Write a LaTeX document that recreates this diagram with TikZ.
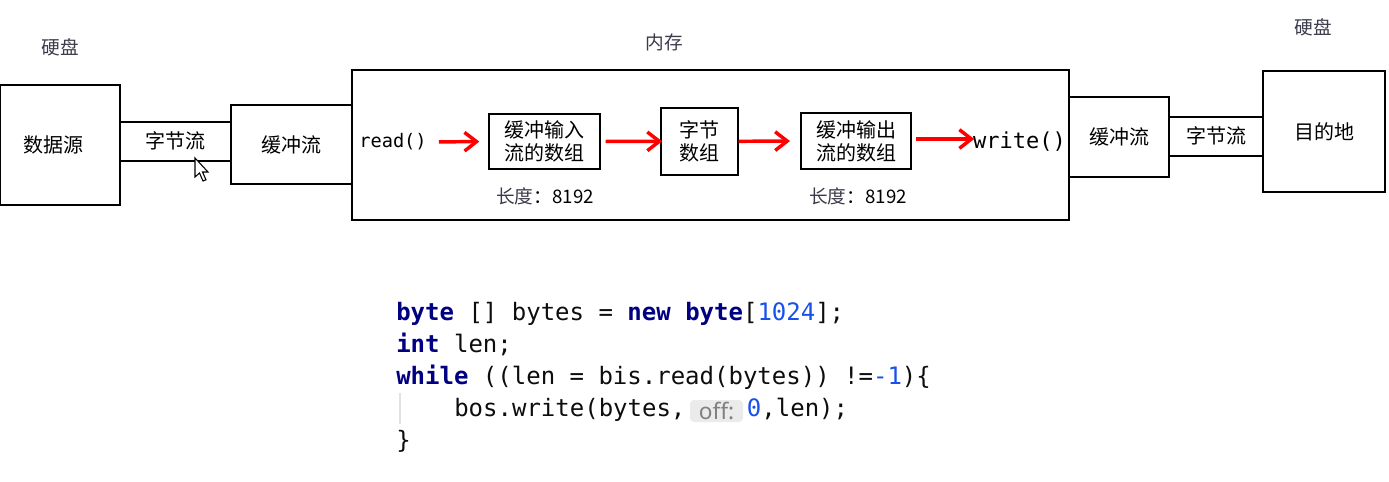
\documentclass[tikz,border=0pt]{standalone}
\usepackage{fontspec}
\usetikzlibrary{arrows.meta}
\newfontfamily\cjk{Noto Sans CJK SC}
\newfontfamily\cmono{DejaVu Sans Mono}
\newfontfamily\hintfont{Noto Sans}
\definecolor{kw}{HTML}{000080}
\definecolor{num}{HTML}{1750EB}
\definecolor{lbl}{HTML}{3A3A4A}
\definecolor{hintbg}{HTML}{EBEBEB}
\definecolor{hintfg}{HTML}{808080}
\definecolor{guide}{HTML}{E2E2E2}
\definecolor{arrred}{HTML}{FF0000}
\newcommand{\kwd}[1]{\textbf{\color{kw}#1}}
\newcommand{\nm}[1]{{\color{num}#1}}
\begin{document}
\begin{tikzpicture}[x=0.75pt,y=-0.75pt,
  box/.style={draw, line width=1.5pt, inner sep=0pt, align=center,
    font=\cjk\fontsize{15}{17.25}\selectfont},
  toplabel/.style={inner sep=0pt, text=lbl, font=\cjk\fontsize{14}{14}\selectfont},
  lenlabel/.style={inner sep=0pt, font=\cjk\fontsize{14}{14}\selectfont},
  redarr/.style={draw=arrred, line width=2.6pt, -{Straight Barb[length=9pt,width=14pt]}},
  code/.style={inner sep=0pt, anchor=base west, text=black!95, font=\cmono\fontsize{18}{18}\selectfont},
  hint/.style={inner sep=0pt, fill=hintbg, rounded corners=3pt, text=hintfg,
    minimum width=39.75pt, minimum height=16.5pt, font=\hintfont\fontsize{17}{17}\selectfont}
]
\useasboundingbox (0,0) rectangle (1389,482);

% top labels
\node[toplabel] (hdl) at (60,47) {硬盘};
\node[toplabel] (nc) at (664,42) {内存};
\node[toplabel] (hdr) at (1313,27) {硬盘};

% left side
\node[box, minimum width=90pt, minimum height=90pt] (src) at (60,145) {数据源\hspace*{10pt}};
\node[box, minimum width=83.25pt, minimum height=29.25pt] (bytel) at (175.5,141) {字节流};
\node[box, minimum width=90.75pt, minimum height=59.25pt] (bufl) at (291.5,144.5) {缓冲流};

% memory
\node[box, minimum width=537.75pt, minimum height=112.5pt] (mem) at (710.5,145) {};
\node[inner sep=0pt, font=\cmono\fontsize{14}{14}\selectfont] (rd) at (393,142) {read()};
\node[box, minimum width=83.25pt, minimum height=41.25pt] (inarr) at (544.5,141.5) {缓冲输入\\流的数组};
\node[box, minimum width=57.75pt, minimum height=50.25pt] (barr) at (699,141.3) {字节\\数组};
\node[box, minimum width=82.5pt, minimum height=42pt] (outarr) at (856,141) {缓冲输出\\流的数组};
\node[inner sep=0pt, font=\cmono\fontsize{16.5}{16.5}\selectfont] (wr) at (1019.5,142) {write()};
\node[lenlabel] (len1) at (545,196) {{\color{lbl}长度}：8192};
\node[lenlabel] (len2) at (858,196) {{\color{lbl}长度}：8192};

\draw[redarr, shorten <=9pt, shorten >=6.5pt] (rd.east) -- (inarr.west);
\draw[redarr, shorten <=3.5pt, shorten >=-2pt] (inarr.east) -- (barr.west);
\draw[redarr, shorten <=0pt, shorten >=7.5pt] (barr.east) -- (outarr.west);
\draw[redarr, shorten <=3pt, shorten >=-1pt] (outarr.east |- 0,139) -- (wr.west |- 0,139);

% right side
\node[box, minimum width=75pt, minimum height=60pt] (bufr) at (1119,136.7) {缓冲流};
\node[box, minimum width=70.5pt, minimum height=29.25pt] (byter) at (1216,136.2) {字节流};
\node[box, minimum width=91.5pt, minimum height=90.75pt] (dst) at (1324,131.3) {目的地};

% mouse cursor
\draw[line width=0.8pt, fill=white, line join=miter]
  (195,158) -- (195,177) -- (199.5,173) -- (203,181) -- (206,179.8) -- (202.5,172) -- (208,172) -- cycle;

% code
\draw[guide, line width=1.5pt] (400,393) -- (400,424);
\node[code] (c1) at (396,320) {\kwd{byte} [] bytes = \kwd{new} \kwd{byte}[\nm{1024}];};
\node[code] (c2) at (396,352) {\kwd{int} len;};
\node[code] (c3) at (396,384) {\kwd{while} ((len = bis.read(bytes)) !=\nm{-1})\{};
\node[code] (c4a) at (454,416) {bos.write(bytes,};
\node[hint] (hint) at (716.5,411) {off:};
\node[code] (c4b) at (746.7,416) {\nm{0},len);};
\node[code] (c5) at (396,448) {\}};
\end{tikzpicture}
\end{document}
